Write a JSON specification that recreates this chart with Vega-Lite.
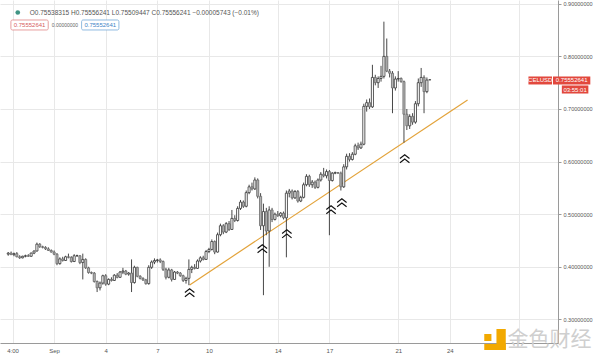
{
"$schema": "https://vega.github.io/schema/vega-lite/v6.json",
"width": 558, "height": 343,
"autosize": {"type": "none"},
"padding": {"left": 0, "top": 0, "right": 42, "bottom": 15},
"background": "white",
"config": {"view": {"stroke": null}, "font": "Liberation Sans"},
"datasets": {
"candles": [
{"t":"2020-08-29T08:00","o":0.424,"h":0.428,"l":0.421,"c":0.426},
{"t":"2020-08-29T12:00","o":0.426,"h":0.429,"l":0.423,"c":0.423},
{"t":"2020-08-29T16:00","o":0.423,"h":0.427,"l":0.420,"c":0.425},
{"t":"2020-08-29T20:00","o":0.425,"h":0.428,"l":0.418,"c":0.419},
{"t":"2020-08-30T00:00","o":0.419,"h":0.422,"l":0.415,"c":0.417},
{"t":"2020-08-30T04:00","o":0.417,"h":0.421,"l":0.416,"c":0.420},
{"t":"2020-08-30T08:00","o":0.420,"h":0.423,"l":0.418,"c":0.421},
{"t":"2020-08-30T12:00","o":0.421,"h":0.424,"l":0.419,"c":0.420},
{"t":"2020-08-30T16:00","o":0.420,"h":0.427,"l":0.419,"c":0.426},
{"t":"2020-08-30T20:00","o":0.426,"h":0.431,"l":0.424,"c":0.430},
{"t":"2020-08-31T00:00","o":0.430,"h":0.446,"l":0.429,"c":0.443},
{"t":"2020-08-31T04:00","o":0.443,"h":0.445,"l":0.436,"c":0.438},
{"t":"2020-08-31T08:00","o":0.438,"h":0.440,"l":0.435,"c":0.437},
{"t":"2020-08-31T12:00","o":0.437,"h":0.439,"l":0.432,"c":0.434},
{"t":"2020-08-31T16:00","o":0.434,"h":0.437,"l":0.430,"c":0.431},
{"t":"2020-08-31T20:00","o":0.431,"h":0.433,"l":0.427,"c":0.428},
{"t":"2020-09-01T00:00","o":0.428,"h":0.431,"l":0.422,"c":0.424},
{"t":"2020-09-01T04:00","o":0.424,"h":0.426,"l":0.403,"c":0.406},
{"t":"2020-09-01T08:00","o":0.406,"h":0.418,"l":0.404,"c":0.415},
{"t":"2020-09-01T12:00","o":0.415,"h":0.419,"l":0.410,"c":0.412},
{"t":"2020-09-01T16:00","o":0.412,"h":0.421,"l":0.411,"c":0.419},
{"t":"2020-09-01T20:00","o":0.419,"h":0.425,"l":0.416,"c":0.418},
{"t":"2020-09-02T00:00","o":0.418,"h":0.420,"l":0.408,"c":0.410},
{"t":"2020-09-02T04:00","o":0.410,"h":0.424,"l":0.409,"c":0.421},
{"t":"2020-09-02T08:00","o":0.421,"h":0.423,"l":0.419,"c":0.421},
{"t":"2020-09-02T12:00","o":0.421,"h":0.422,"l":0.405,"c":0.408},
{"t":"2020-09-02T16:00","o":0.408,"h":0.425,"l":0.376,"c":0.414},
{"t":"2020-09-02T20:00","o":0.414,"h":0.416,"l":0.396,"c":0.398},
{"t":"2020-09-03T00:00","o":0.398,"h":0.400,"l":0.387,"c":0.389},
{"t":"2020-09-03T04:00","o":0.389,"h":0.391,"l":0.386,"c":0.388},
{"t":"2020-09-03T08:00","o":0.388,"h":0.390,"l":0.370,"c":0.372},
{"t":"2020-09-03T12:00","o":0.372,"h":0.374,"l":0.352,"c":0.360},
{"t":"2020-09-03T16:00","o":0.360,"h":0.372,"l":0.355,"c":0.369},
{"t":"2020-09-03T20:00","o":0.369,"h":0.385,"l":0.366,"c":0.383},
{"t":"2020-09-04T00:00","o":0.383,"h":0.386,"l":0.364,"c":0.367},
{"t":"2020-09-04T04:00","o":0.367,"h":0.378,"l":0.365,"c":0.376},
{"t":"2020-09-04T08:00","o":0.376,"h":0.380,"l":0.372,"c":0.374},
{"t":"2020-09-04T12:00","o":0.374,"h":0.386,"l":0.373,"c":0.384},
{"t":"2020-09-04T16:00","o":0.384,"h":0.388,"l":0.378,"c":0.380},
{"t":"2020-09-04T20:00","o":0.380,"h":0.392,"l":0.379,"c":0.390},
{"t":"2020-09-05T00:00","o":0.390,"h":0.398,"l":0.386,"c":0.392},
{"t":"2020-09-05T04:00","o":0.392,"h":0.394,"l":0.384,"c":0.386},
{"t":"2020-09-05T08:00","o":0.386,"h":0.390,"l":0.383,"c":0.388},
{"t":"2020-09-05T12:00","o":0.388,"h":0.414,"l":0.352,"c":0.370},
{"t":"2020-09-05T16:00","o":0.370,"h":0.402,"l":0.368,"c":0.399},
{"t":"2020-09-05T20:00","o":0.399,"h":0.400,"l":0.380,"c":0.382},
{"t":"2020-09-06T00:00","o":0.382,"h":0.384,"l":0.376,"c":0.378},
{"t":"2020-09-06T04:00","o":0.378,"h":0.380,"l":0.373,"c":0.375},
{"t":"2020-09-06T08:00","o":0.375,"h":0.377,"l":0.366,"c":0.368},
{"t":"2020-09-06T12:00","o":0.368,"h":0.403,"l":0.366,"c":0.399},
{"t":"2020-09-06T16:00","o":0.399,"h":0.412,"l":0.396,"c":0.409},
{"t":"2020-09-06T20:00","o":0.409,"h":0.416,"l":0.405,"c":0.412},
{"t":"2020-09-07T00:00","o":0.412,"h":0.415,"l":0.408,"c":0.413},
{"t":"2020-09-07T04:00","o":0.413,"h":0.416,"l":0.407,"c":0.410},
{"t":"2020-09-07T08:00","o":0.410,"h":0.412,"l":0.392,"c":0.395},
{"t":"2020-09-07T12:00","o":0.395,"h":0.398,"l":0.376,"c":0.380},
{"t":"2020-09-07T16:00","o":0.380,"h":0.398,"l":0.378,"c":0.394},
{"t":"2020-09-07T20:00","o":0.394,"h":0.396,"l":0.372,"c":0.376},
{"t":"2020-09-08T00:00","o":0.376,"h":0.392,"l":0.375,"c":0.390},
{"t":"2020-09-08T04:00","o":0.390,"h":0.392,"l":0.386,"c":0.388},
{"t":"2020-09-08T08:00","o":0.388,"h":0.390,"l":0.381,"c":0.383},
{"t":"2020-09-08T12:00","o":0.383,"h":0.385,"l":0.371,"c":0.374},
{"t":"2020-09-08T16:00","o":0.374,"h":0.381,"l":0.368,"c":0.378},
{"t":"2020-09-08T20:00","o":0.378,"h":0.414,"l":0.365,"c":0.395},
{"t":"2020-09-09T00:00","o":0.395,"h":0.402,"l":0.388,"c":0.399},
{"t":"2020-09-09T04:00","o":0.399,"h":0.405,"l":0.395,"c":0.397},
{"t":"2020-09-09T08:00","o":0.397,"h":0.414,"l":0.396,"c":0.411},
{"t":"2020-09-09T12:00","o":0.411,"h":0.420,"l":0.408,"c":0.417},
{"t":"2020-09-09T16:00","o":0.417,"h":0.421,"l":0.412,"c":0.414},
{"t":"2020-09-09T20:00","o":0.414,"h":0.432,"l":0.413,"c":0.429},
{"t":"2020-09-10T00:00","o":0.429,"h":0.436,"l":0.426,"c":0.433},
{"t":"2020-09-10T04:00","o":0.433,"h":0.452,"l":0.431,"c":0.448},
{"t":"2020-09-10T08:00","o":0.448,"h":0.450,"l":0.424,"c":0.428},
{"t":"2020-09-10T12:00","o":0.428,"h":0.465,"l":0.427,"c":0.461},
{"t":"2020-09-10T16:00","o":0.461,"h":0.482,"l":0.458,"c":0.478},
{"t":"2020-09-10T20:00","o":0.478,"h":0.481,"l":0.462,"c":0.466},
{"t":"2020-09-11T00:00","o":0.466,"h":0.485,"l":0.464,"c":0.482},
{"t":"2020-09-11T04:00","o":0.482,"h":0.487,"l":0.468,"c":0.471},
{"t":"2020-09-11T08:00","o":0.471,"h":0.508,"l":0.470,"c":0.492},
{"t":"2020-09-11T12:00","o":0.492,"h":0.498,"l":0.485,"c":0.488},
{"t":"2020-09-11T16:00","o":0.488,"h":0.515,"l":0.486,"c":0.511},
{"t":"2020-09-11T20:00","o":0.511,"h":0.527,"l":0.508,"c":0.523},
{"t":"2020-09-12T00:00","o":0.523,"h":0.526,"l":0.512,"c":0.515},
{"t":"2020-09-12T04:00","o":0.515,"h":0.545,"l":0.513,"c":0.541},
{"t":"2020-09-12T08:00","o":0.541,"h":0.556,"l":0.538,"c":0.552},
{"t":"2020-09-12T12:00","o":0.552,"h":0.560,"l":0.545,"c":0.548},
{"t":"2020-09-12T16:00","o":0.548,"h":0.570,"l":0.546,"c":0.565},
{"t":"2020-09-12T20:00","o":0.565,"h":0.568,"l":0.530,"c":0.534},
{"t":"2020-09-13T00:00","o":0.534,"h":0.540,"l":0.470,"c":0.478},
{"t":"2020-09-13T04:00","o":0.478,"h":0.520,"l":0.346,"c":0.505},
{"t":"2020-09-13T08:00","o":0.505,"h":0.512,"l":0.460,"c":0.468},
{"t":"2020-09-13T12:00","o":0.468,"h":0.515,"l":0.400,"c":0.508},
{"t":"2020-09-13T16:00","o":0.508,"h":0.512,"l":0.485,"c":0.490},
{"t":"2020-09-13T20:00","o":0.490,"h":0.503,"l":0.488,"c":0.500},
{"t":"2020-09-14T00:00","o":0.500,"h":0.506,"l":0.495,"c":0.497},
{"t":"2020-09-14T04:00","o":0.497,"h":0.504,"l":0.494,"c":0.502},
{"t":"2020-09-14T08:00","o":0.502,"h":0.505,"l":0.490,"c":0.493},
{"t":"2020-09-14T12:00","o":0.493,"h":0.545,"l":0.418,"c":0.540},
{"t":"2020-09-14T16:00","o":0.540,"h":0.548,"l":0.532,"c":0.544},
{"t":"2020-09-14T20:00","o":0.544,"h":0.547,"l":0.528,"c":0.531},
{"t":"2020-09-15T00:00","o":0.531,"h":0.546,"l":0.529,"c":0.543},
{"t":"2020-09-15T04:00","o":0.543,"h":0.546,"l":0.522,"c":0.525},
{"t":"2020-09-15T08:00","o":0.525,"h":0.535,"l":0.523,"c":0.532},
{"t":"2020-09-15T12:00","o":0.532,"h":0.560,"l":0.530,"c":0.556},
{"t":"2020-09-15T16:00","o":0.556,"h":0.576,"l":0.553,"c":0.572},
{"t":"2020-09-15T20:00","o":0.572,"h":0.575,"l":0.552,"c":0.556},
{"t":"2020-09-16T00:00","o":0.556,"h":0.565,"l":0.550,"c":0.561},
{"t":"2020-09-16T04:00","o":0.561,"h":0.564,"l":0.548,"c":0.551},
{"t":"2020-09-16T08:00","o":0.551,"h":0.568,"l":0.549,"c":0.565},
{"t":"2020-09-16T12:00","o":0.565,"h":0.580,"l":0.562,"c":0.576},
{"t":"2020-09-16T16:00","o":0.576,"h":0.588,"l":0.570,"c":0.573},
{"t":"2020-09-16T20:00","o":0.573,"h":0.585,"l":0.568,"c":0.581},
{"t":"2020-09-17T00:00","o":0.581,"h":0.584,"l":0.460,"c":0.564},
{"t":"2020-09-17T04:00","o":0.564,"h":0.580,"l":0.562,"c":0.578},
{"t":"2020-09-17T08:00","o":0.578,"h":0.581,"l":0.576,"c":0.579},
{"t":"2020-09-17T12:00","o":0.579,"h":0.580,"l":0.577,"c":0.578},
{"t":"2020-09-17T16:00","o":0.578,"h":0.581,"l":0.545,"c":0.552},
{"t":"2020-09-17T20:00","o":0.552,"h":0.595,"l":0.550,"c":0.590},
{"t":"2020-09-18T00:00","o":0.590,"h":0.615,"l":0.585,"c":0.610},
{"t":"2020-09-18T04:00","o":0.610,"h":0.616,"l":0.600,"c":0.604},
{"t":"2020-09-18T08:00","o":0.604,"h":0.618,"l":0.602,"c":0.614},
{"t":"2020-09-18T12:00","o":0.614,"h":0.634,"l":0.612,"c":0.630},
{"t":"2020-09-18T16:00","o":0.630,"h":0.636,"l":0.622,"c":0.626},
{"t":"2020-09-18T20:00","o":0.626,"h":0.638,"l":0.624,"c":0.633},
{"t":"2020-09-19T00:00","o":0.633,"h":0.710,"l":0.631,"c":0.705},
{"t":"2020-09-19T04:00","o":0.705,"h":0.718,"l":0.695,"c":0.712},
{"t":"2020-09-19T08:00","o":0.712,"h":0.720,"l":0.700,"c":0.704},
{"t":"2020-09-19T12:00","o":0.704,"h":0.784,"l":0.702,"c":0.760},
{"t":"2020-09-19T16:00","o":0.760,"h":0.765,"l":0.745,"c":0.750},
{"t":"2020-09-19T20:00","o":0.750,"h":0.762,"l":0.740,"c":0.758},
{"t":"2020-09-20T00:00","o":0.758,"h":0.782,"l":0.752,"c":0.762},
{"t":"2020-09-20T04:00","o":0.762,"h":0.866,"l":0.758,"c":0.800},
{"t":"2020-09-20T08:00","o":0.800,"h":0.834,"l":0.770,"c":0.772},
{"t":"2020-09-20T12:00","o":0.772,"h":0.776,"l":0.760,"c":0.768},
{"t":"2020-09-20T16:00","o":0.768,"h":0.772,"l":0.692,"c":0.740},
{"t":"2020-09-20T20:00","o":0.740,"h":0.762,"l":0.735,"c":0.757},
{"t":"2020-09-21T00:00","o":0.757,"h":0.772,"l":0.752,"c":0.758},
{"t":"2020-09-21T04:00","o":0.758,"h":0.760,"l":0.750,"c":0.752},
{"t":"2020-09-21T08:00","o":0.752,"h":0.754,"l":0.636,"c":0.690},
{"t":"2020-09-21T12:00","o":0.690,"h":0.700,"l":0.660,"c":0.668},
{"t":"2020-09-21T16:00","o":0.668,"h":0.690,"l":0.662,"c":0.686},
{"t":"2020-09-21T20:00","o":0.686,"h":0.692,"l":0.670,"c":0.675},
{"t":"2020-09-22T00:00","o":0.675,"h":0.715,"l":0.672,"c":0.710},
{"t":"2020-09-22T04:00","o":0.710,"h":0.758,"l":0.705,"c":0.750},
{"t":"2020-09-22T08:00","o":0.750,"h":0.778,"l":0.742,"c":0.760},
{"t":"2020-09-22T12:00","o":0.760,"h":0.764,"l":0.692,"c":0.733},
{"t":"2020-09-22T16:00","o":0.733,"h":0.760,"l":0.730,"c":0.755},
{"t":"2020-09-22T20:00","o":0.75538,"h":0.75556,"l":0.75509,"c":0.75556}
],
"trend": [{"t":"2020-09-08T21:03","p":0.3654,"t2":"2020-09-25T00:43","p2":0.7171}],
"signals": [
{"t":"2020-09-08T21:03","p":0.3502},
{"t":"2020-09-13T02:24","p":0.4338},
{"t":"2020-09-14T12:39","p":0.4623},
{"t":"2020-09-17T02:18","p":0.5080},
{"t":"2020-09-17T17:22","p":0.5213},
{"t":"2020-09-21T09:03","p":0.6049}
],
"one": [{}]
},
"layer": [
{
"data": {"name": "one"},
"mark": {"type": "rule", "color": "#e79a9a", "strokeDash": [1.5, 2], "strokeWidth": 0.8},
"encoding": {
"x": {"field": "t", "type": "temporal", "title": null,
"scale": {"domain": [{"year":2020,"month":8,"date":29,"hours":3,"minutes":30},{"year":2020,"month":9,"date":29,"hours":23,"minutes":53}]},
"axis": {"values": [{"year":2020,"month":8,"date":29,"hours":14},{"year":2020,"month":9,"date":1},{"year":2020,"month":9,"date":4},{"year":2020,"month":9,"date":7},{"year":2020,"month":9,"date":10},{"year":2020,"month":9,"date":14},{"year":2020,"month":9,"date":17},{"year":2020,"month":9,"date":21},{"year":2020,"month":9,"date":24},{"year":2020,"month":9,"date":28}],
"labelExpr": "hours(datum.value) == 14 ? '4:00' : (date(datum.value) == 1 ? 'Sep' : (date(datum.value) == 28 ? '' : '' + date(datum.value)))",
"grid": true, "gridColor": "#e8e8e8", "domainColor": "#9a9a9a", "ticks": false,
"labelFontSize": 6, "labelColor": "#555", "labelPadding": 4, "labelFlush": false, "labelOverlap": false}},
"y": {"datum": 0.75552641, "type": "quantitative", "title": null,
"scale": {"domain": [0.2551, 0.9072], "nice": false, "zero": false},
"axis": {"orient": "right", "values": [0.3,0.35,0.4,0.45,0.5,0.55,0.6,0.65,0.7,0.75,0.8,0.85,0.9], "format": ".8f",
"grid": true, "gridColor": "#e8e8e8", "domainColor": "#9a9a9a", "tickColor": "#9a9a9a", "tickSize": 3,
"labelFontSize": 5.5, "labelColor": "#555", "labelPadding": 2, "labelOverlap": false, "labelFlush": false}}
}
},
{
"data": {"name": "trend"},
"mark": {"type": "rule", "color": "#e3a33a", "strokeWidth": 1.2},
"encoding": {
"x": {"field": "t", "type": "temporal", "title": null},
"x2": {"field": "t2"},
"y": {"field": "p", "type": "quantitative", "title": null},
"y2": {"field": "p2"}
}
},
{
"data": {"name": "candles"},
"mark": {"type": "rule", "color": "#333", "strokeWidth": 0.9},
"encoding": {
"x": {"field": "t", "type": "temporal", "title": null},
"y": {"field": "l", "type": "quantitative", "title": null},
"y2": {"field": "h"}
}
},
{
"data": {"name": "candles"},
"mark": {"type": "bar", "size": 2.1, "strokeWidth": 0.8},
"encoding": {
"x": {"field": "t", "type": "temporal", "title": null},
"y": {"field": "o", "type": "quantitative", "title": null},
"y2": {"field": "c"},
"fill": {"condition": {"test": "datum.c >= datum.o", "value": "#ffffff"}, "value": "#b3b3b3"},
"stroke": {"condition": {"test": "datum.c >= datum.o", "value": "#333333"}, "value": "#6a6a6a"}
}
},
{
"data": {"name": "signals"},
"mark": {"type": "point", "shape": "M-1,-0.1L0,-0.9L1,-0.1M-1,0.8L0,0L1,0.8", "filled": false, "stroke": "#111", "strokeWidth": 1.1, "size": 90, "opacity": 1},
"encoding": {
"x": {"field": "t", "type": "temporal", "title": null},
"y": {"field": "p", "type": "quantitative", "title": null}
}
},
{
"data": {"name": "one"},
"mark": {"type": "point", "filled": true, "color": "#3f9484", "size": 22, "opacity": 1},
"encoding": {
"x": {"datum": {"year":2020,"month":8,"date":29,"hours":21,"minutes":19}, "type": "temporal"},
"y": {"datum": 0.8834, "type": "quantitative"}
}
},
{
"data": {"name": "one"},
"mark": {"type": "text", "text": "O0.75538315 H0.75556241 L0.75509447 C0.75556241 −0.00005743 (−0.01%)", "align": "left", "baseline": "middle", "fontSize": 6.5, "color": "#555"},
"encoding": {
"x": {"datum": {"year":2020,"month":8,"date":30,"hours":14,"minutes":0}, "type": "temporal"},
"y": {"datum": 0.8834, "type": "quantitative"}
}
},
{
"data": {"name": "one"},
"mark": {"type": "rect", "fill": "#ffffff", "stroke": "#e08585", "strokeWidth": 0.8, "cornerRadius": 1.5},
"encoding": {
"x": {"datum": {"year":2020,"month":8,"date":29,"hours":11,"minutes":44}, "type": "temporal"},
"x2": {"datum": {"year":2020,"month":8,"date":31,"hours":15,"minutes":47}},
"y": {"datum": 0.8692, "type": "quantitative"},
"y2": {"datum": 0.8502}
}
},
{
"data": {"name": "one"},
"mark": {"type": "text", "text": "0.75552641", "align": "center", "baseline": "middle", "fontSize": 6, "color": "#d65c5c"},
"encoding": {
"x": {"datum": {"year":2020,"month":8,"date":30,"hours":13,"minutes":45}, "type": "temporal"},
"y": {"datum": 0.8597, "type": "quantitative"}
}
},
{
"data": {"name": "one"},
"mark": {"type": "text", "text": "0.00000000", "align": "center", "baseline": "middle", "fontSize": 5, "color": "#666"},
"encoding": {
"x": {"datum": {"year":2020,"month":9,"date":1,"hours":15,"minutes":4}, "type": "temporal"},
"y": {"datum": 0.8597, "type": "quantitative"}
}
},
{
"data": {"name": "one"},
"mark": {"type": "rect", "fill": "#ffffff", "stroke": "#73a9d8", "strokeWidth": 0.8, "cornerRadius": 1.5},
"encoding": {
"x": {"datum": {"year":2020,"month":9,"date":2,"hours":14,"minutes":21}, "type": "temporal"},
"x2": {"datum": {"year":2020,"month":9,"date":4,"hours":18,"minutes":24}},
"y": {"datum": 0.8692, "type": "quantitative"},
"y2": {"datum": 0.8502}
}
},
{
"data": {"name": "one"},
"mark": {"type": "text", "text": "0.75552641", "align": "center", "baseline": "middle", "fontSize": 6, "color": "#3d85c6"},
"encoding": {
"x": {"datum": {"year":2020,"month":9,"date":3,"hours":16,"minutes":23}, "type": "temporal"},
"y": {"datum": 0.8597, "type": "quantitative"}
}
},
{
"data": {"name": "one"},
"mark": {"type": "rect", "fill": "#e2483d"},
"encoding": {
"x": {"datum": {"year":2020,"month":9,"date":28,"hours":13,"minutes":38}, "type": "temporal"},
"x2": {"datum": {"year":2020,"month":9,"date":29,"hours":22,"minutes":31}},
"y": {"datum": 0.7618, "type": "quantitative"},
"y2": {"datum": 0.7466}
}
},
{
"data": {"name": "one"},
"mark": {"type": "text", "text": "CELUSD", "align": "center", "baseline": "middle", "fontSize": 6, "color": "#ffffff"},
"encoding": {
"x": {"datum": {"year":2020,"month":9,"date":29,"hours":6,"minutes":4}, "type": "temporal"},
"y": {"datum": 0.7542, "type": "quantitative"}
}
},
{
"data": {"name": "one"},
"mark": {"type": "rect", "fill": "#e2483d"},
"encoding": {
"x": {"datum": {"year":2020,"month":9,"date":29,"hours":23,"minutes":53}, "type": "temporal"},
"x2": {"datum": {"year":2020,"month":10,"date":2,"hours":3,"minutes":56}},
"y": {"datum": 0.7618, "type": "quantitative"},
"y2": {"datum": 0.7466}
}
},
{
"data": {"name": "one"},
"mark": {"type": "text", "text": "0.75552641", "align": "center", "baseline": "middle", "fontSize": 6, "color": "#ffffff"},
"encoding": {
"x": {"datum": {"year":2020,"month":10,"date":1,"hours":1,"minutes":55}, "type": "temporal"},
"y": {"datum": 0.7542, "type": "quantitative"}
}
},
{
"data": {"name": "one"},
"mark": {"type": "rect", "fill": "#e2483d"},
"encoding": {
"x": {"datum": {"year":2020,"month":9,"date":30,"hours":12,"minutes":13}, "type": "temporal"},
"x2": {"datum": {"year":2020,"month":10,"date":2,"hours":1,"minutes":12}},
"y": {"datum": 0.7447, "type": "quantitative"},
"y2": {"datum": 0.7294}
}
},
{
"data": {"name": "one"},
"mark": {"type": "text", "text": "03:55:01", "align": "center", "baseline": "middle", "fontSize": 6, "color": "#ffffff"},
"encoding": {
"x": {"datum": {"year":2020,"month":10,"date":1,"hours":6,"minutes":41}, "type": "temporal"},
"y": {"datum": 0.7370, "type": "quantitative"}
}
},
{
"data": {"name": "one"},
"mark": {"type": "rect", "fill": "#f2a900"},
"encoding": {
"x": {"datum": {"year":2020,"month":9,"date":26,"hours":0,"minutes":0}, "type": "temporal"},
"x2": {"datum": {"year":2020,"month":9,"date":26,"hours":10,"minutes":0}},
"y": {"datum": 0.2722, "type": "quantitative"},
"y2": {"datum": 0.2589}
}
},
{
"data": {"name": "one"},
"mark": {"type": "rect", "fill": "#f2a900"},
"encoding": {
"x": {"datum": {"year":2020,"month":9,"date":26,"hours":17,"minutes":0}, "type": "temporal"},
"x2": {"datum": {"year":2020,"month":9,"date":27,"hours":6,"minutes":0}},
"y": {"datum": 0.2817, "type": "quantitative"},
"y2": {"datum": 0.2418}
}
},
{
"data": {"name": "one"},
"mark": {"type": "rect", "fill": "#f2a900"},
"encoding": {
"x": {"datum": {"year":2020,"month":9,"date":26,"hours":0,"minutes":0}, "type": "temporal"},
"x2": {"datum": {"year":2020,"month":9,"date":27,"hours":6,"minutes":0}},
"y": {"datum": 0.2532, "type": "quantitative"},
"y2": {"datum": 0.2418}
}
},
{
"data": {"name": "one"},
"mark": {"type": "text", "text": "金色财经", "align": "center", "baseline": "middle", "fontSize": 21, "font": "Noto Sans CJK SC", "color": "#cfcfcf"},
"encoding": {
"x": {"datum": {"year":2020,"month":9,"date":29,"hours":19,"minutes":6}, "type": "temporal"},
"y": {"datum": 0.2608, "type": "quantitative"}
}
}
]
}
